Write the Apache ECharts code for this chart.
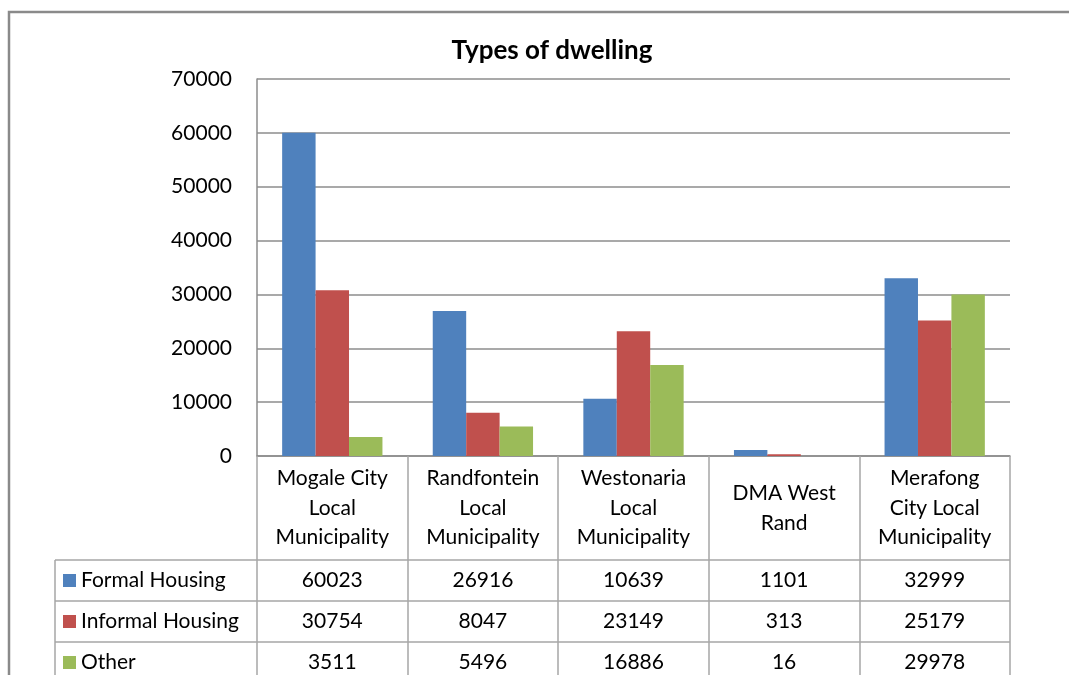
<!DOCTYPE html>
<html>
<head>
<meta charset="utf-8">
<script src="https://cdn.jsdelivr.net/npm/echarts@6/dist/echarts.min.js"></script>
<style>
  html, body { margin: 0; padding: 0; background: #ffffff; }
  #chart { width: 1069px; height: 675px; }
</style>
</head>
<body>
<div id="chart"></div>
<script>
// Dwelling types per municipality of the West Rand district
const categories = [
  'Mogale City\nLocal\nMunicipality',
  'Randfontein\nLocal\nMunicipality',
  'Westonaria\nLocal\nMunicipality',
  'DMA West\nRand',
  'Merafong\nCity Local\nMunicipality'
];
const seriesNames = ['Formal Housing', 'Informal Housing', 'Other'];
const formalHousing = [60023, 26916, 10639, 1101, 32999];
const informalHousing = [30754, 8047, 23149, 313, 25179];
const other = [3511, 5496, 16886, 16, 29978];
const yTicks = [0, 10000, 20000, 30000, 40000, 50000, 60000, 70000];

const seriesData = [formalHousing, informalHousing, other];
const colors = ['#4F81BD', '#C0504D', '#9BBB59'];
const FONT = 'Lato';
const FONT_SIZE = 21;
const GRID = { left: 257, right: 59, top: 79, bottom: 219 };
const HEADER_H = 104;   // height of the category-name row of the data table
const ROW_H = 41;       // height of each series row
const LINE = '#a6a6a6';
const plotBottom = 675 - GRID.bottom;

const chart = echarts.init(document.getElementById('chart'), null, { renderer: 'canvas' });

const option = {
  animation: false,
  backgroundColor: '#ffffff',
  color: colors,
  textStyle: { fontFamily: FONT },
  title: {
    text: 'Types of dwelling',
    left: 547,
    top: 33,
    textAlign: 'center',
    textStyle: { fontFamily: FONT, fontSize: 26, fontWeight: 'bold', color: '#000' }
  },
  // row headers of the data table double as the legend
  legend: {
    orient: 'vertical',
    left: 63,
    top: plotBottom + HEADER_H + ROW_H / 2 - 11,
    height: 160,
    padding: 0,
    itemGap: ROW_H - 22,
    itemWidth: 13,
    itemHeight: 13,
    icon: 'rect',
    selectedMode: false,
    data: seriesNames,
    textStyle: { fontFamily: FONT, fontSize: FONT_SIZE, color: '#000', height: 22, lineHeight: 22 }
  },
  grid: { left: GRID.left, right: GRID.right, top: GRID.top, bottom: GRID.bottom, containLabel: false },
  xAxis: {
    type: 'category',
    data: categories,
    axisLine: { show: true, lineStyle: { color: '#8c8c8c', width: 1.5 } },
    axisTick: {
      show: true,
      alignWithLabel: false,
      length: HEADER_H + ROW_H * 3,
      lineStyle: { color: LINE, width: 1.5 }
    },
    axisLabel: {
      interval: 0,
      margin: HEADER_H / 2,
      verticalAlign: 'middle',
      fontFamily: FONT,
      fontSize: FONT_SIZE,
      lineHeight: 29.5,
      color: '#000'
    }
  },
  yAxis: {
    type: 'value',
    min: yTicks[0],
    max: yTicks[yTicks.length - 1],
    interval: yTicks[1] - yTicks[0],
    axisLine: { show: true, lineStyle: { color: '#8c8c8c', width: 1.5 } },
    axisTick: { show: false },
    splitLine: { show: true, lineStyle: { color: '#8c8c8c', width: 1.5 } },
    axisLabel: {
      margin: 25,
      fontFamily: FONT,
      fontSize: FONT_SIZE,
      color: '#000',
      formatter: v => String(v)
    }
  },
  series: seriesNames.map((name, i) => ({
    name,
    type: 'bar',
    data: seriesData[i],
    barGap: '0%',
    barCategoryGap: '33.4%',
    itemStyle: { color: colors[i] }
  }))
};

chart.setOption(option);

// Data table under the axis: horizontal rules, outer frame and value cells
function buildTable() {
  const xRight = 1069 - GRID.right;
  const tableLeft = 55;
  const rowTops = [0, 1, 2].map(r => plotBottom + HEADER_H + r * ROW_H);
  const elements = [];

  // outer chart frame
  elements.push({
    type: 'rect',
    shape: { x: 9, y: 12, width: 1100, height: 700 },
    style: { fill: null, stroke: '#8a8a8a', lineWidth: 2.5 },
    silent: true
  });

  // horizontal rules of the series rows
  rowTops.forEach(y => {
    elements.push({
      type: 'line',
      shape: { x1: tableLeft, y1: y, x2: xRight, y2: y },
      style: { stroke: LINE, lineWidth: 1.5 },
      silent: true
    });
  });
  // left edge of the row-header column
  elements.push({
    type: 'line',
    shape: { x1: tableLeft, y1: rowTops[0], x2: tableLeft, y2: 700 },
    style: { stroke: LINE, lineWidth: 1.5 },
    silent: true
  });

  // value cells, centred under each category
  categories.forEach((cat, c) => {
    const cx = chart.convertToPixel({ xAxisIndex: 0 }, c);
    seriesData.forEach((values, r) => {
      elements.push({
        type: 'text',
        x: cx,
        y: rowTops[r] + ROW_H / 2,
        style: {
          text: String(values[c]),
          fill: '#000',
          font: FONT_SIZE + 'px ' + FONT,
          align: 'center',
          verticalAlign: 'middle'
        },
        silent: true
      });
    });
  });

  chart.setOption({ graphic: { elements } });
}
buildTable();
</script>
</body>
</html>
